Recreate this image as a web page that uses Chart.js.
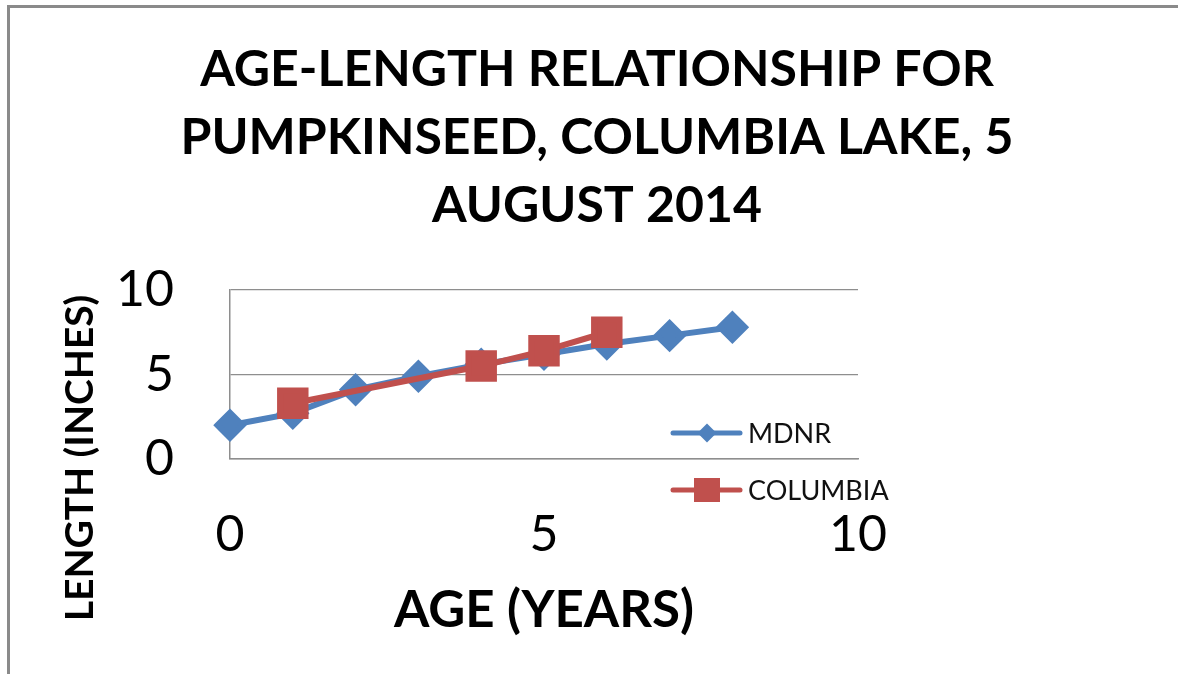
<!DOCTYPE html>
<html>
<head>
<meta charset="utf-8">
<script src="https://cdn.jsdelivr.net/npm/chart.js@4.4.1/dist/chart.umd.min.js"></script>
<style>
  html, body { margin: 0; padding: 0; background: #fff; }
  #wrap { width: 1178px; height: 674px; position: relative; }
</style>
</head>
<body>
<div id="wrap"><canvas id="chart"></canvas></div>
<script>
// ---- data ----
const chartTitle = ['AGE-LENGTH RELATIONSHIP FOR', 'PUMPKINSEED, COLUMBIA LAKE, 5', 'AUGUST 2014'];
const xTitle = 'AGE (YEARS)';
const yTitle = 'LENGTH (INCHES)';
const seriesNames = ['MDNR', 'COLUMBIA'];
const mdnrAges = [0, 1, 2, 3, 4, 5, 6, 7, 8];
const mdnrLength = [2.0, 2.7, 4.1, 4.9, 5.6, 6.2, 6.8, 7.3, 7.8];
const columbiaAges = [1, 4, 5, 6];
const columbiaLength = [3.3, 5.5, 6.4, 7.5];
const xTicks = [0, 5, 10];
const yTicks = [0, 5, 10];

const FONT = 'Lato, "Open Sans", sans-serif';
const BLUE = '#4F81BD';
const RED = '#C0504D';
const GRID = '#8e8e8e';

const toPoints = (xs, ys) => xs.map((x, i) => ({ x, y: ys[i] }));

// frame, axis titles and the legend sitting inside the plot (Excel style)
const excelDecor = {
  id: 'excelDecor',
  beforeDraw(chart) {
    const ctx = chart.ctx;
    ctx.save();
    ctx.fillStyle = '#fff';
    ctx.fillRect(0, 0, chart.width, chart.height);
    ctx.strokeStyle = '#8a8a8a';
    ctx.lineWidth = 3;
    ctx.beginPath();
    ctx.moveTo(chart.width, 6.5);
    ctx.lineTo(8.5, 6.5);
    ctx.lineTo(8.5, chart.height);
    ctx.stroke();
    ctx.restore();
  },
  afterDraw(chart) {
    const ctx = chart.ctx;
    const area = chart.chartArea;
    ctx.save();
    ctx.fillStyle = '#000';
    ctx.textAlign = 'center';
    ctx.textBaseline = 'middle';

    ctx.font = 'bold 51px ' + FONT;
    ctx.fillText(xTitle, (area.left + area.right) / 2, 611);

    ctx.save();
    ctx.translate(80, 458);
    ctx.rotate(-Math.PI / 2);
    ctx.font = 'bold 39px ' + FONT;
    ctx.fillText(yTitle, 0, 0);
    ctx.restore();

    // legend
    ctx.font = '27px ' + FONT;
    ctx.textAlign = 'left';
    chart.data.datasets.forEach((ds, i) => {
      const y = area.bottom - 26 + i * 57;
      const x0 = area.right - 185;
      ctx.strokeStyle = ds.borderColor;
      ctx.lineWidth = 5;
      ctx.lineCap = 'round';
      ctx.beginPath();
      ctx.moveTo(x0, y);
      ctx.lineTo(x0 + 67, y);
      ctx.stroke();
      ctx.fillStyle = ds.pointBackgroundColor;
      const cx = x0 + 34;
      if (ds.pointStyle === 'rectRot') {
        ctx.beginPath();
        ctx.moveTo(cx, y - 9.5);
        ctx.lineTo(cx + 9.5, y);
        ctx.lineTo(cx, y + 9.5);
        ctx.lineTo(cx - 9.5, y);
        ctx.closePath();
        ctx.fill();
      } else {
        ctx.fillRect(cx - 13, y - 12, 26, 24);
      }
      ctx.fillStyle = '#111';
      ctx.fillText(ds.label, x0 + 75, y + 1);
    });
    ctx.restore();
  },
};

new Chart(document.getElementById('chart'), {
  type: 'line',
  data: {
    datasets: [
      {
        label: seriesNames[0],
        data: toPoints(mdnrAges, mdnrLength),
        borderColor: BLUE,
        backgroundColor: BLUE,
        pointBackgroundColor: BLUE,
        pointBorderColor: BLUE,
        pointStyle: 'rectRot',
        pointRadius: 12.5,
        borderWidth: 6,
        tension: 0,
        fill: false,
        clip: false,
        order: 1,
      },
      {
        label: seriesNames[1],
        data: toPoints(columbiaAges, columbiaLength),
        borderColor: RED,
        backgroundColor: RED,
        pointBackgroundColor: RED,
        pointBorderColor: RED,
        pointStyle: 'rect',
        pointRadius: 18,
        borderWidth: 6,
        tension: 0,
        fill: false,
        clip: false,
        order: 0,
      },
    ],
  },
  options: {
    responsive: true,
    maintainAspectRatio: false,
    animation: false,
    layout: { padding: { left: 16, top: 0, right: 0, bottom: 0 } },
    plugins: {
      legend: { display: false },
      tooltip: { enabled: false },
      title: {
        display: true,
        text: chartTitle,
        color: '#000',
        font: { family: FONT, size: 50, weight: 'bold', lineHeight: 1.36 },
        padding: { top: 36, bottom: 50 },
      },
    },
    scales: {
      x: {
        type: 'linear',
        min: 0,
        max: 10,
        afterBuildTicks: (s) => { s.ticks = xTicks.map((v) => ({ value: v })); },
        ticks: { color: '#000', font: { family: FONT, size: 50 }, padding: 46, maxRotation: 0 },
        grid: { display: false, drawTicks: false },
        border: { display: true, color: GRID, width: 1.5 },
        afterFit: (s) => { s.height = 215; },
      },
      y: {
        min: 0,
        max: 10,
        afterBuildTicks: (s) => { s.ticks = yTicks.map((v) => ({ value: v })); },
        ticks: { color: '#000', font: { family: FONT, size: 50 }, padding: 56 },
        grid: { color: GRID, lineWidth: 1.3, drawTicks: false },
        border: { display: true, color: GRID, width: 1.5 },
        afterFit: (s) => { s.width = 214; },
      },
      spacer: {
        position: 'right',
        display: true,
        ticks: { display: false },
        grid: { display: false, drawTicks: false },
        border: { display: false },
        afterFit: (s) => { s.width = 320; },
      },
    },
  },
  plugins: [excelDecor],
});
</script>
</body>
</html>
